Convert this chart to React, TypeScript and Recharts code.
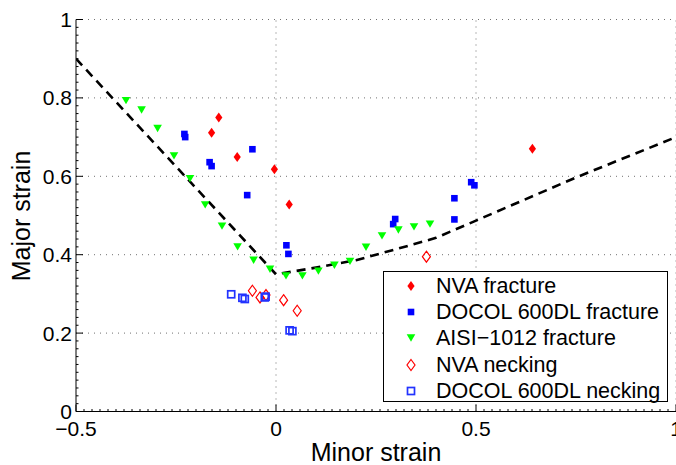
import type { ReactElement } from "react";
import { ReferenceLine, Scatter, ScatterChart, XAxis, YAxis } from "recharts";

// forming limit diagram: fracture / necking strains for three steels
const nvaFractureX = [-0.161, -0.143, -0.097, -0.004, 0.033, 0.641];
const nvaFractureY = [0.711, 0.75, 0.649, 0.618, 0.528, 0.67];

const docolFractureX = [
  -0.229, -0.227, -0.166, -0.161, -0.072, -0.059, 0.026, 0.031, 0.293, 0.298,
  0.446, 0.446, 0.488, 0.496,
];
const docolFractureY = [
  0.708, 0.7, 0.636, 0.626, 0.552, 0.669, 0.424, 0.402, 0.478, 0.491, 0.49,
  0.544, 0.585, 0.577,
];

const aisiFractureX = [
  -0.375, -0.336, -0.296, -0.255, -0.215, -0.177, -0.135, -0.096, -0.056,
  -0.015, 0.025, 0.066, 0.106, 0.146, 0.185, 0.225, 0.265, 0.306, 0.345, 0.385,
];
const aisiFractureY = [
  0.793, 0.769, 0.722, 0.652, 0.594, 0.527, 0.473, 0.42, 0.386, 0.363, 0.346,
  0.346, 0.358, 0.373, 0.383, 0.419, 0.448, 0.463, 0.471, 0.478,
];

const nvaNeckingX = [-0.059, -0.04, -0.025, 0.019, 0.053, 0.376];
const nvaNeckingY = [0.308, 0.291, 0.297, 0.284, 0.257, 0.395];

const docolNeckingX = [-0.112, -0.084, -0.078, -0.028, -0.026, 0.034, 0.041];
const docolNeckingY = [0.299, 0.29, 0.287, 0.291, 0.293, 0.207, 0.205];

// forming limit curve
const flcX = [-0.5, 0, 0.1, 0.2, 0.3, 0.4, 0.5, 0.75, 1];
const flcY = [0.9, 0.35, 0.367, 0.386, 0.414, 0.443, 0.487, 0.597, 0.7];

const xGrid = [0, 0.5, 1];
const yGrid = [0.2, 0.4, 0.6, 0.8, 1];

// minor ticks every 0.02
const xTicks = Array.from({ length: 76 }, (_, i) => Math.round((-0.5 + i * 0.02) * 100) / 100);
const yTicks = Array.from({ length: 51 }, (_, i) => Math.round(i * 0.02 * 100) / 100);

const FONT = '"Liberation Sans", Arial, Helvetica, sans-serif';
const RED = "#ff0000";
const BLUE = "#0000ff";
const GREEN = "#00ff00";
const GRID = "#707070";

const zip = (xs: number[], ys: number[]) => xs.map((x, i) => ({ x, y: ys[i] }));

type Pt = { cx?: number; cy?: number };

function diamond(cx: number, cy: number, w: number, h: number, fill: string, stroke: string, sw: number) {
  return (
    <polygon
      points={`${cx},${cy - h / 2} ${cx + w / 2},${cy} ${cx},${cy + h / 2} ${cx - w / 2},${cy}`}
      fill={fill}
      stroke={stroke}
      strokeWidth={sw}
    />
  );
}

const markers: Record<string, (cx: number, cy: number) => ReactElement> = {
  nvaF: (cx, cy) => diamond(cx, cy, 7.2, 10, RED, "none", 0),
  docolF: (cx, cy) => <rect x={cx - 3.3} y={cy - 3.3} width={6.6} height={6.6} fill={BLUE} />,
  aisiF: (cx, cy) => (
    <polygon
      points={`${cx - 4.3},${cy - 3.7} ${cx + 4.3},${cy - 3.7} ${cx},${cy + 3.7}`}
      fill={GREEN}
    />
  ),
  nvaN: (cx, cy) => diamond(cx, cy, 8, 11, "none", RED, 1.2),
  docolN: (cx, cy) => (
    <rect x={cx - 3.5} y={cy - 3.5} width={7} height={7} fill="none" stroke="#2233ff" strokeWidth={1.7} />
  ),
};

const shapeOf = (key: string) => (p: Pt) => markers[key](p.cx ?? 0, p.cy ?? 0);

const legendItems = [
  { key: "nvaF", label: "NVA fracture" },
  { key: "docolF", label: "DOCOL 600DL fracture" },
  { key: "aisiF", label: "AISI\u22121012 fracture" },
  { key: "nvaN", label: "NVA necking" },
  { key: "docolN", label: "DOCOL 600DL necking" },
];

function fmt(v: number): string {
  if (v === 0) return "0";
  if (v === 1) return "1";
  const s = String(Math.abs(v));
  return v < 0 ? `\u2212${s}` : s;
}

const isMult = (v: number, step: number) => Math.abs(v / step - Math.round(v / step)) < 1e-6;

function XTick(props: any) {
  const { x, y, payload } = props;
  const v = payload.value as number;
  const major = isMult(v, 0.5);
  return (
    <g>
      <line x1={x} y1={y} x2={x} y2={y - (major ? 7 : 2.5)} stroke="#000" strokeWidth={1} />
      {major && (
        <text x={x} y={y + 24} textAnchor="middle" fontSize={21} fontFamily={FONT} fill="#000">
          {fmt(v)}
        </text>
      )}
    </g>
  );
}

function YTick(props: any) {
  const { x, y, payload } = props;
  const v = payload.value as number;
  const major = isMult(v, 0.2);
  return (
    <g>
      <line x1={x} y1={y} x2={x + (major ? 7 : 2.5)} y2={y} stroke="#000" strokeWidth={1} />
      {major && (
        <text x={x - 4} y={y + 7.5} textAnchor="end" fontSize={21} fontFamily={FONT} fill="#000">
          {fmt(v)}
        </text>
      )}
    </g>
  );
}

function LegendBox() {
  return (
    <div
      style={{
        position: "absolute",
        left: 383,
        top: 271,
        width: 285,
        height: 131,
        border: "1px solid #000",
        background: "#fff",
        boxSizing: "border-box",
        paddingTop: 1,
        fontFamily: FONT,
        fontSize: 21.5,
        color: "#000",
      }}
    >
      {legendItems.map((it) => (
        <div key={it.key} style={{ height: 26.2, display: "flex", alignItems: "center" }}>
          <svg width={52} height={26} style={{ flex: "none" }}>
            {markers[it.key](27, 13)}
          </svg>
          <span style={{ whiteSpace: "nowrap", lineHeight: "26px" }}>{it.label}</span>
        </div>
      ))}
    </div>
  );
}

export default function App() {
  return (
    <div
      style={{
        position: "absolute",
        left: 0,
        top: 0,
        width: 676,
        height: 465,
        overflow: "hidden",
        background: "#fff",
      }}
    >
      <ScatterChart width={700} height={465} margin={{ top: 19.5, right: 24, bottom: 13.5, left: 16 }}>
        <XAxis
          type="number"
          dataKey="x"
          domain={[-0.5, 1]}
          ticks={xTicks}
          interval={0}
          tick={<XTick />}
          tickLine={false}
          tickSize={0}
          tickMargin={0}
          height={40}
          axisLine={{ stroke: "#000", strokeWidth: 1 }}
          allowDataOverflow
          label={{
            content: () => (
              <text x={376} y={461} textAnchor="middle" fontSize={25} fontFamily={FONT} fill="#000">
                Minor strain
              </text>
            ),
          }}
        />
        <YAxis
          type="number"
          dataKey="y"
          domain={[0, 1]}
          ticks={yTicks}
          interval={0}
          tick={<YTick />}
          tickLine={false}
          tickSize={0}
          tickMargin={0}
          width={60}
          axisLine={{ stroke: "#000", strokeWidth: 1 }}
          allowDataOverflow
          label={{
            content: () => (
              <text
                transform="translate(30,216) rotate(-90)"
                textAnchor="middle"
                fontSize={25}
                fontFamily={FONT}
                fill="#000"
              >
                Major strain
              </text>
            ),
          }}
        />
        {xGrid.map((v) => (
          <ReferenceLine key={`gx${v}`} x={v} stroke={GRID} strokeDasharray="1 5" />
        ))}
        {yGrid.map((v) => (
          <ReferenceLine key={`gy${v}`} y={v} stroke={GRID} strokeDasharray="1 5" />
        ))}
        <Scatter
          name="FLC"
          data={zip(flcX, flcY)}
          line={{ stroke: "#000", strokeWidth: 2.6, strokeDasharray: "9 6" }}
          lineType="joint"
          shape={() => <g />}
          isAnimationActive={false}
        />
        <Scatter name="NVA fracture" data={zip(nvaFractureX, nvaFractureY)} shape={shapeOf("nvaF")} isAnimationActive={false} />
        <Scatter name="DOCOL 600DL fracture" data={zip(docolFractureX, docolFractureY)} shape={shapeOf("docolF")} isAnimationActive={false} />
        <Scatter name="AISI-1012 fracture" data={zip(aisiFractureX, aisiFractureY)} shape={shapeOf("aisiF")} isAnimationActive={false} />
        <Scatter name="NVA necking" data={zip(nvaNeckingX, nvaNeckingY)} shape={shapeOf("nvaN")} isAnimationActive={false} />
        <Scatter name="DOCOL 600DL necking" data={zip(docolNeckingX, docolNeckingY)} shape={shapeOf("docolN")} isAnimationActive={false} />
      </ScatterChart>
      <LegendBox />
    </div>
  );
}
